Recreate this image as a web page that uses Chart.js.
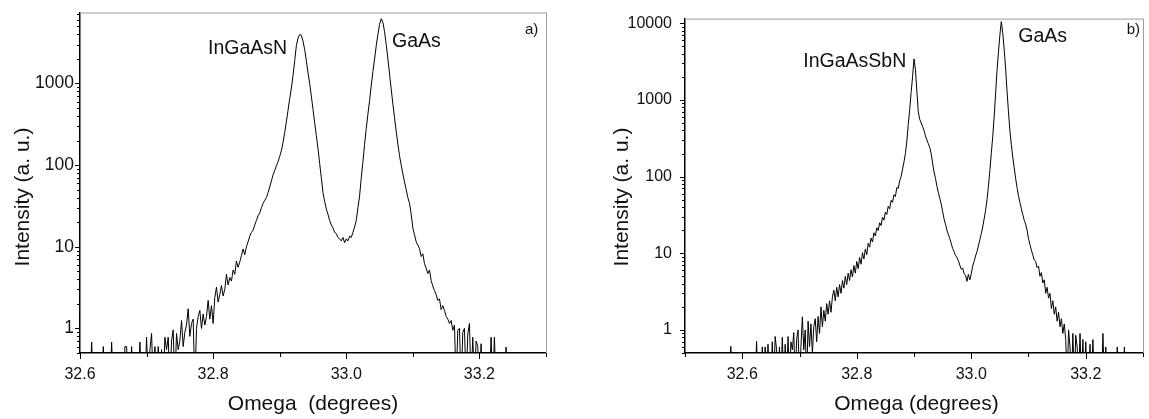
<!DOCTYPE html>
<html>
<head>
<meta charset="utf-8">
<script src="https://cdn.jsdelivr.net/npm/chart.js@4.4.0/dist/chart.umd.min.js"></script>
<style>
  html, body { margin: 0; padding: 0; background: #fff; }
  #wrap { position: relative; width: 1149px; height: 419px; }
  canvas { position: absolute; top: 0; }
</style>
</head>
<body>
<div id="wrap">
  <canvas id="chartA" width="574" height="419" style="left:0"></canvas>
  <canvas id="chartB" width="575" height="419" style="left:574px"></canvas>
</div>
<script>
// omega scans, one value every 0.0025 deg; 0.2 = no counts (below the axis)
const omegaStartA = 32.6
const omegaStepA = 0.0025
const intensityA = [
  0.2, 0.2, 0.2, 0.2, // 32.60
  0.2, 0.2, 0.2, 0.68,
  0.2, 0.2, 0.2, 0.2,
  0.2, 0.2, 0.6, 0.2,
  0.2, 0.2, 0.2, 0.68,
  0.2, 0.2, 0.2, 0.2,
  0.2, 0.2, 0.2, 0.6,
  0.6, 0.2, 0.2, 0.6,
  0.2, 0.2, 0.2, 0.2,
  0.68, 0.2, 0.2, 0.2,
  0.78, 0.2, 0.55, 0.87, // 32.70
  0.2, 0.6, 0.2, 0.6,
  0.2, 0.55, 0.2, 0.78,
  0.55, 0.78, 0.2, 0.7,
  0.96, 0.2, 0.87, 0.55,
  0.7, 1.25, 0.6, 0.9,
  1.1, 1.74, 0.8, 1.15,
  1.3, 0.2, 1.0, 1.4,
  1.66, 1.0, 1.5, 1.1,
  1.4, 2.2, 1.3, 1.9,
  1.15, 2.4, 3.2, 2.1, // 32.80
  2.6, 3.35, 2.5, 3.0,
  4.6, 3.4, 4.2, 3.8,
  5.2, 4.6, 6.7, 5.6,
  6.5, 7.8, 9.4, 8.0,
  10, 11.5, 13.5, 15,
  16, 18.5, 21, 24,
  26, 30, 34, 37,
  40, 46, 54, 64,
  76, 86, 98, 110,
  128, 150, 190, 250, // 32.90
  340, 470, 650, 880,
  1250, 1900, 2900, 3600,
  3980, 3900, 3300, 2600,
  1900, 1350, 1000, 700,
  480, 330, 230, 160,
  105, 70, 46, 36,
  29, 25, 21, 18.5,
  17, 15, 14.5, 13,
  12.5, 11.8, 13, 11.2,
  12.5, 11.8, 13.5, 13, // 33.00
  15, 17.5, 21, 30,
  42, 70, 110, 180,
  280, 420, 620, 950,
  1400, 2000, 2900, 4000,
  5300, 6200, 5600, 4300,
  3000, 2000, 1300, 850,
  560, 380, 260, 180,
  130, 100, 78, 62,
  50, 40, 34, 25,
  17, 14, 11.5, 10.5, // 33.10
  9.5, 7.6, 8.2, 6.2,
  5.5, 4.7, 5.2, 3.85,
  3.3, 2.9, 2.6, 2.2,
  2.3, 1.7, 1.9, 1.66,
  1.4, 1.3, 1.15, 1.25,
  0.95, 1.1, 0.2, 0.95,
  1.0, 0.2, 0.9, 1.0,
  0.2, 0.85, 1.15, 0.2,
  0.78, 0.2, 0.7, 0.6,
  0.2, 0.65, 0.2, 0.2, // 33.20
  0.2, 0.2, 0.2, 0.78,
  0.2, 0.78, 0.2, 0.2,
  0.2, 0.2, 0.2, 0.2,
  0.59, 0.2, 0.2, 0.2,
  0.2, 0.2, 0.2, 0.2,
  0.2, 0.2, 0.2, 0.2,
  0.2, 0.2, 0.2, 0.2,
  0.2, 0.2, 0.2, 0.2,
  0.2, 0.2, 0.2, 0.2,
  0.2 // 33.30
]

const omegaStartB = 32.5
const omegaStepB = 0.0025
const intensityB = [
  0.2, 0.2, 0.2, 0.2, // 32.50
  0.2, 0.2, 0.2, 0.2,
  0.2, 0.2, 0.2, 0.2,
  0.2, 0.2, 0.2, 0.2,
  0.2, 0.2, 0.2, 0.2,
  0.2, 0.2, 0.2, 0.2,
  0.2, 0.2, 0.2, 0.2,
  0.2, 0.2, 0.2, 0.2,
  0.61, 0.2, 0.2, 0.2,
  0.2, 0.2, 0.2, 0.2,
  0.2, 0.2, 0.2, 0.2, // 32.60
  0.2, 0.2, 0.2, 0.2,
  0.2, 0.2, 0.71, 0.2,
  0.2, 0.2, 0.6, 0.2,
  0.6, 0.2, 0.65, 0.2,
  0.2, 0.7, 0.2, 0.82,
  0.55, 0.2, 0.6, 0.2,
  0.8, 0.2, 0.65, 0.2,
  0.82, 0.2, 0.7, 0.55,
  0.92, 0.2, 0.75, 1.0,
  0.2, 0.6, 1.48, 0.55, // 32.70
  1.0, 0.2, 1.3, 0.6,
  1.2, 0.5, 1.1, 1.4,
  0.7, 1.5, 0.9, 2.0,
  1.1, 1.8, 1.3, 2.2,
  1.6, 2.4, 1.7, 2.7,
  3.3, 2.4, 3.6, 2.7,
  3.9, 3.0, 4.4, 3.5,
  5.0, 3.9, 5.5, 4.4,
  6.1, 4.9, 6.9, 5.5,
  7.8, 6.3, 8.8, 7.2, // 32.80
  10.2, 8.4, 11.4, 9.6,
  13.5, 12.0, 15.8, 14.0,
  18.5, 16.8, 21.5, 19.8,
  25, 23, 29.5, 27,
  34.5, 32, 41, 38,
  49, 46, 58, 55,
  72, 70, 88, 100,
  125, 155, 200, 290,
  480, 750, 1250, 2000,
  3430, 2500, 1300, 700, // 32.90
  560, 500, 450, 400,
  340, 300, 270, 240,
  200, 150, 115, 95,
  75, 62, 52, 44,
  35, 28, 24, 20,
  17.5, 15.5, 13.5, 11.5,
  10.5, 9.4, 8.8, 8.0,
  7.0, 6.2, 6.4, 5.4,
  5.2, 4.3, 5.3, 4.5,
  5.4, 6.8, 7.8, 9.2, // 33.00
  10.5, 12.5, 15, 18,
  22, 28, 36, 50,
  75, 120, 200, 330,
  600, 1200, 2400, 4200,
  7000, 10500, 7500, 4600,
  2600, 1300, 700, 400,
  260, 180, 130, 95,
  72, 56, 46, 38,
  32, 27, 24, 20,
  15.5, 13, 11, 9.5, // 33.10
  8.2, 7.8, 6.5, 6.8,
  5.0, 5.6, 4.1, 4.5,
  3.0, 3.6, 2.6, 3.0,
  1.9, 2.4, 1.6, 2.0,
  1.3, 1.7, 1.1, 1.4,
  0.9, 1.2, 0.75, 0.2,
  1.0, 0.6, 0.2, 0.9,
  0.2, 0.85, 0.6, 0.2,
  0.9, 0.2, 0.75, 0.2,
  0.7, 0.2, 0.2, 0.65, // 33.20
  0.2, 0.75, 0.2, 0.2,
  0.2, 0.2, 0.2, 0.2,
  0.9, 0.2, 0.6, 0.2,
  0.2, 0.2, 0.2, 0.2,
  0.2, 0.2, 0.6, 0.2,
  0.2, 0.2, 0.2, 0.6,
  0.2, 0.2, 0.2, 0.2,
  0.2, 0.2, 0.2, 0.2,
  0.2, 0.2, 0.2, 0.2,
  0.2 // 33.30
]

const xTickLabelsA = [32.6, 32.8, 33.0, 33.2]
const xTickLabelsB = [32.6, 32.8, 33.0, 33.2]
const yTickLabelsA = [1, 10, 100, 1000]
const yTickLabelsB = [1, 10, 100, 1000, 10000]

const FONT = "'Liberation Sans', Arial, sans-serif"

const toPoints = (start, step, values) =>
    values.map((y, i) => ({ x: +(start + i * step).toFixed(4), y }))

const near = (list, v) => list.some((l) => Math.abs(l - v) < 1e-6)

// light frame, tick marks and the free text of each panel
const decor = {
    id: "decor",
    afterDraw(chart, args, opts) {
        const { ctx } = chart
        const { left, right, top, bottom } = chart.chartArea
        const xs = chart.scales.x
        const ys = chart.scales.y

        ctx.save()
        ctx.lineWidth = 1
        ctx.strokeStyle = "#9c9c9c"
        ctx.beginPath()
        ctx.moveTo(left, top + 0.5)
        ctx.lineTo(right, top + 0.5)
        ctx.moveTo(Math.round(right) + 0.5, top)
        ctx.lineTo(Math.round(right) + 0.5, bottom)
        ctx.stroke()

        ctx.strokeStyle = "#000"
        ctx.beginPath()
        ys.ticks.forEach((t) => {
            const e = Math.floor(Math.log10(t.value) + 1e-9)
            const r = t.value / Math.pow(10, e)
            if (Math.abs(r - Math.round(r)) > 1e-6) return
            const y = Math.round(ys.getPixelForValue(t.value)) + 0.5
            const len = Math.round(r) === 1 ? 5 : 3
            ctx.moveTo(left - len, y)
            ctx.lineTo(left, y)
        })
        xs.ticks.forEach((t) => {
            const x = Math.round(xs.getPixelForValue(t.value)) + 0.5
            const len = near(opts.xLabels, t.value) ? 6 : 4
            ctx.moveTo(x, bottom)
            ctx.lineTo(x, bottom + len)
        })
        ctx.stroke()

        ctx.fillStyle = "#111"
        opts.texts.forEach((t) => {
            ctx.font = `${t.size}px ${FONT}`
            ctx.textBaseline = "alphabetic"
            ctx.textAlign = t.align || "left"
            if (t.rotate) {
                ctx.save()
                ctx.translate(t.x, t.y)
                ctx.rotate(-Math.PI / 2)
                ctx.fillText(t.text, 0, 0)
                ctx.restore()
            } else {
                ctx.fillText(t.text, t.x, t.y)
            }
        })
        ctx.restore()
    },
}

const makeChart = (el, cfg) =>
    new Chart(document.getElementById(el), {
        type: "line",
        data: {
            datasets: [
                {
                    data: toPoints(cfg.start, cfg.step, cfg.values),
                    borderColor: "#000",
                    borderWidth: 1,
                    pointRadius: 0,
                    tension: 0,
                    fill: false,
                },
            ],
        },
        options: {
            responsive: false,
            animation: false,
            devicePixelRatio: 1,
            layout: { padding: { top: 12, right: cfg.padRight, left: 0, bottom: 0 } },
            plugins: {
                legend: { display: false },
                tooltip: { enabled: false },
                decor: { xLabels: cfg.xLabels, texts: cfg.texts },
            },
            scales: {
                x: {
                    type: "linear",
                    min: cfg.xMin,
                    max: cfg.xMax,
                    afterFit: (s) => {
                        s.height = 66
                    },
                    grid: { display: false, tickLength: 6 },
                    border: { display: true, color: "#000", width: 1.5 },
                    ticks: {
                        stepSize: 0.1,
                        autoSkip: false,
                        maxRotation: 0,
                        padding: 6,
                        color: "#111",
                        font: { family: FONT, size: 16 },
                        callback: (v) => (near(cfg.xLabels, v) ? Number(v).toFixed(1) : ""),
                    },
                },
                y: {
                    type: "logarithmic",
                    min: 0.5,
                    max: cfg.yMax,
                    afterFit: (s) => {
                        s.width = cfg.yWidth
                    },
                    grid: { display: false, tickLength: 4 },
                    border: { display: true, color: "#000", width: 1.5 },
                    ticks: {
                        autoSkip: false,
                        padding: cfg.yPad,
                        color: "#111",
                        font: { family: FONT, size: cfg.yFont },
                        callback: (v) => (near(cfg.yLabels, v) ? String(Math.round(v)) : ""),
                    },
                },
            },
        },
        plugins: [decor],
    })

makeChart("chartA", {
    start: omegaStartA,
    step: omegaStepA,
    values: intensityA,
    xMin: 32.6,
    xMax: 33.3,
    yMax: 7400,
    yWidth: 80,
    yPad: 2,
    yFont: 17.5,
    padRight: 28,
    xLabels: xTickLabelsA,
    yLabels: yTickLabelsA,
    texts: [
        { text: "Intensity (a. u.)", x: 28.5, y: 197, size: 21, rotate: true, align: "center" },
        { text: "Omega  (degrees)", x: 313, y: 410, size: 21, align: "center" },
        { text: "InGaAsN", x: 208, y: 54, size: 19.5 },
        { text: "GaAs", x: 392, y: 47, size: 19.5 },
        { text: "a)", x: 525, y: 33.5, size: 15 },
    ],
})

makeChart("chartB", {
    start: omegaStartB,
    step: omegaStepB,
    values: intensityB,
    xMin: 32.5,
    xMax: 33.3,
    yMax: 11500,
    yWidth: 111,
    yPad: 9,
    yFont: 16,
    padRight: 0,
    xLabels: xTickLabelsB,
    yLabels: yTickLabelsB,
    texts: [
        { text: "Intensity (a. u.)", x: 54, y: 197, size: 21, rotate: true, align: "center" },
        { text: "Omega (degrees)", x: 342.5, y: 410, size: 21, align: "center" },
        { text: "InGaAsSbN", x: 229.3, y: 67, size: 19.5 },
        { text: "GaAs", x: 444.3, y: 42, size: 19.5 },
        { text: "b)", x: 552.7, y: 34, size: 15 },
    ],
})
</script>
</body>
</html>
